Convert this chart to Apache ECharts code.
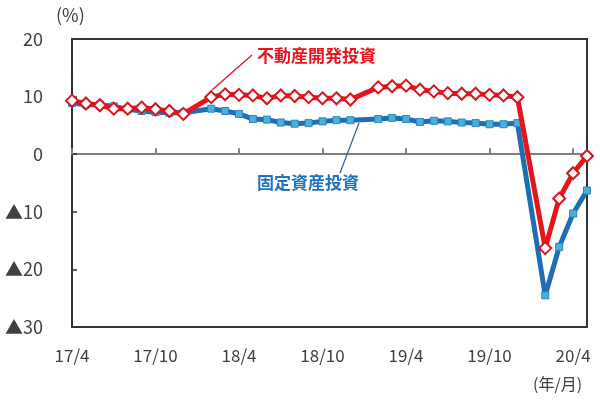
<!DOCTYPE html>
<html><head><meta charset="utf-8">
<script src="https://cdn.jsdelivr.net/npm/echarts@6/dist/echarts.min.js"></script>
<style>html,body{margin:0;padding:0;background:#fff;}#c{width:600px;height:404px;}</style>
</head><body><div id="c"></div>
<script>
const categories = [
 '17/4','17/5','17/6','17/7','17/8','17/9','17/10','17/11','17/12',
 '18/1','18/2','18/3','18/4','18/5','18/6','18/7','18/8','18/9','18/10','18/11','18/12',
 '19/1','19/2','19/3','19/4','19/5','19/6','19/7','19/8','19/9','19/10','19/11','19/12',
 '20/1','20/2','20/3','20/4','20/5'
];
const realEstate = [
 9.3,8.8,8.5,7.9,7.9,8.1,7.8,7.5,7.0,
 null,9.9,10.4,10.3,10.2,9.7,10.2,10.1,9.9,9.7,9.7,9.5,
 null,11.6,11.8,11.9,11.2,10.9,10.6,10.5,10.5,10.3,10.2,9.9,
 null,-16.3,-7.7,-3.3,-0.3
];
const fixedAsset = [
 8.9,8.6,8.6,8.3,7.8,7.5,7.3,7.2,7.2,
 null,7.9,7.5,7.0,6.1,6.0,5.5,5.3,5.4,5.7,5.9,5.9,
 null,6.1,6.3,6.1,5.6,5.8,5.7,5.5,5.4,5.2,5.2,5.4,
 null,-24.5,-16.1,-10.3,-6.3
];
const yTicks = {min:-30, max:20, interval:10};
const nameRealEstate = '不動産開発投資';
const nameFixed = '固定資産投資';

const chart = echarts.init(document.getElementById('c'));
const FONT = '"Noto Sans CJK JP", "Noto Sans", sans-serif';
chart.setOption({
  animation:false,
  grid:{left:72,right:13,top:39,bottom:77,show:true,borderColor:'#333',borderWidth:2,backgroundColor:'transparent'},
  xAxis:[{
    type:'category',data:categories,boundaryGap:false,position:'bottom',
    axisLine:{show:true,onZero:false,lineStyle:{color:'#333',width:2}},
    axisTick:{show:false},
    axisLabel:{interval:5,margin:20,fontSize:17,color:'#404040',fontFamily:FONT},
    splitLine:{show:false}
  },{
    type:'category',data:categories,boundaryGap:false,position:'top',
    axisLine:{show:true,onZero:true,lineStyle:{color:'#808080',width:2}},
    axisTick:{show:true,inside:false,interval:5,length:6,lineStyle:{color:'#808080',width:2}},
    axisLabel:{show:false},
    splitLine:{show:false}
  }],
  yAxis:{
    type:'value',min:yTicks.min,max:yTicks.max,interval:yTicks.interval,
    axisLine:{show:true,lineStyle:{color:'#333',width:2}},
    axisTick:{show:true,inside:true,length:5,lineStyle:{color:'#333',width:1.5}},
    splitLine:{show:false},
    axisLabel:{margin:29,fontSize:18,color:'#404040',fontFamily:FONT,
      formatter:v=> v<0 ? '▲'+(-v) : String(v)}
  },
  series:[{
    name:nameFixed,type:'line',data:fixedAsset,connectNulls:true,smooth:false,
    showAllSymbol:true,
    lineStyle:{color:'#1f6db5',width:5,join:'round'},
    symbol:'rect',symbolSize:7,
    itemStyle:{color:'#4bb0d8',borderColor:'#2a86c0',borderWidth:1},
    z:2
  },{
    name:nameRealEstate,type:'line',data:realEstate,connectNulls:true,smooth:false,
    showAllSymbol:true,
    lineStyle:{color:'#e8141c',width:5,join:'round'},
    symbol:'diamond',symbolSize:12,
    itemStyle:{color:'#ffffff',borderColor:'#d9141c',borderWidth:2},
    z:3
  }],
  graphic:[
    {type:'text',left:56,top:6,style:{text:'(%)',font:'18px '+FONT,fill:'#404040'}},
    {type:'text',left:533,top:376,style:{text:'(年/月)',font:'16px '+FONT,fill:'#404040'}},
    {type:'line',shape:{x1:252,y1:55,x2:212,y2:90},style:{stroke:'#d9141c',lineWidth:1.2},z:10},
    {type:'text',left:257,top:47,style:{text:nameRealEstate,font:'bold 17px '+FONT,fill:'#e8141c'},z:10},
    {type:'line',shape:{x1:359,y1:123,x2:340,y2:173},style:{stroke:'#2e5d8f',lineWidth:1.2},z:10},
    {type:'text',left:257,top:174,style:{text:nameFixed,font:'bold 17px '+FONT,fill:'#1f74bf'},z:10}
  ]
});
</script></body></html>
